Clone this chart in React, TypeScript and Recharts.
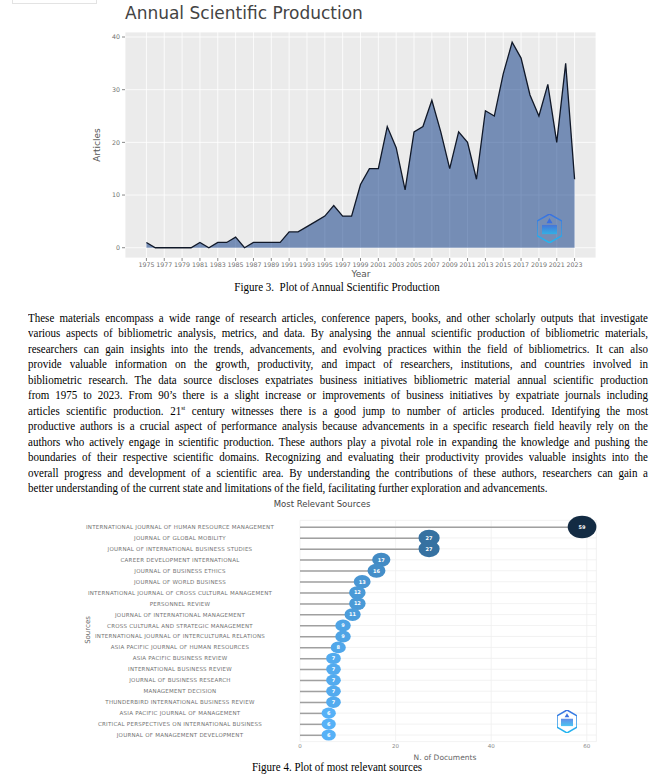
import {
  AreaChart,
  Area,
  XAxis,
  YAxis,
  CartesianGrid,
  ComposedChart,
  Bar,
  Scatter,
  ZAxis,
} from "recharts";

// Figure 3 — annual scientific production
const YEARS = [
  1975, 1976, 1977, 1978, 1979, 1980, 1981, 1982, 1983, 1984, 1985, 1986, 1987,
  1988, 1989, 1990, 1991, 1992, 1993, 1994, 1995, 1996, 1997, 1998, 1999, 2000,
  2001, 2002, 2003, 2004, 2005, 2006, 2007, 2008, 2009, 2010, 2011, 2012, 2013,
  2014, 2015, 2016, 2017, 2018, 2019, 2020, 2021, 2022, 2023,
];
const ARTICLES = [
  1, 0, 0, 0, 0, 0, 1, 0, 1, 1, 2, 0, 1, 1, 1, 1, 3, 3, 4, 5, 6, 8, 6, 6, 12, 15,
  15, 23, 19, 11, 22, 23, 28, 22, 15, 22, 20, 13, 26, 25, 33, 39, 36, 29, 25, 31,
  20, 35, 13,
];
const YEAR_TICKS = [
  1975, 1977, 1979, 1981, 1983, 1985, 1987, 1989, 1991, 1993, 1995, 1997, 1999,
  2001, 2003, 2005, 2007, 2009, 2011, 2013, 2015, 2017, 2019, 2021, 2023,
];
const ARTICLE_TICKS = [0, 10, 20, 30, 40];

// Figure 4 — most relevant sources
const SOURCES = [
  "INTERNATIONAL JOURNAL OF HUMAN RESOURCE MANAGEMENT",
  "JOURNAL OF GLOBAL MOBILITY",
  "JOURNAL OF INTERNATIONAL BUSINESS STUDIES",
  "CAREER DEVELOPMENT INTERNATIONAL",
  "JOURNAL OF BUSINESS ETHICS",
  "JOURNAL OF WORLD BUSINESS",
  "INTERNATIONAL JOURNAL OF CROSS CULTURAL MANAGEMENT",
  "PERSONNEL REVIEW",
  "JOURNAL OF INTERNATIONAL MANAGEMENT",
  "CROSS CULTURAL AND STRATEGIC MANAGEMENT",
  "INTERNATIONAL JOURNAL OF INTERCULTURAL RELATIONS",
  "ASIA PACIFIC JOURNAL OF HUMAN RESOURCES",
  "ASIA PACIFIC BUSINESS REVIEW",
  "INTERNATIONAL BUSINESS REVIEW",
  "JOURNAL OF BUSINESS RESEARCH",
  "MANAGEMENT DECISION",
  "THUNDERBIRD INTERNATIONAL BUSINESS REVIEW",
  "ASIA PACIFIC JOURNAL OF MANAGEMENT",
  "CRITICAL PERSPECTIVES ON INTERNATIONAL BUSINESS",
  "JOURNAL OF MANAGEMENT DEVELOPMENT",
];
const DOCUMENTS = [59, 27, 27, 17, 16, 13, 12, 12, 11, 9, 9, 8, 7, 7, 7, 7, 7, 6, 6, 6];
const DOC_TICKS = [0, 20, 40, 60];

const PARAGRAPH = [
  "These materials encompass a wide range of research articles, conference papers, books, and other scholarly outputs that investigate",
  "various aspects of bibliometric analysis, metrics, and data. By analysing the annual scientific production of bibliometric materials,",
  "researchers can gain insights into the trends, advancements, and evolving practices within the field of bibliometrics. It can also",
  "provide valuable information on the growth, productivity, and impact of researchers, institutions, and countries involved in",
  "bibliometric research. The data source discloses expatriates business initiatives bibliometric material annual scientific production",
  "from 1975 to 2023. From 90\u2019s there is a slight increase or improvements of business initiatives by expatriate journals including",
  "articles scientific production. 21|st| century witnesses there is a good jump to number of articles produced. Identifying the most",
  "productive authors is a crucial aspect of performance analysis because advancements in a specific research field heavily rely on the",
  "authors who actively engage in scientific production. These authors play a pivotal role in expanding the knowledge and pushing the",
  "boundaries of their respective scientific domains. Recognizing and evaluating their productivity provides valuable insights into the",
  "overall progress and development of a scientific area. By understanding the contributions of these authors, researchers can gain a",
  "better understanding of the current state and limitations of the field, facilitating further exploration and advancements.",
];

const annualData = YEARS.map((year, i) => ({ year, articles: ARTICLES[i] }));
const sourceData = SOURCES.map((name, i) => ({ name, rank: i + 1, value: DOCUMENTS[i] }));
const RANKS = sourceData.map((d) => d.rank);

const chartFont = "'DejaVu Sans', Verdana, sans-serif";
const serif = "'Liberation Serif', 'Times New Roman', serif";
const SQUEEZE = 0.88;

// ggplot-like gradient: light blue for few docs, dark navy for many
const minDoc = Math.min(...DOCUMENTS);
const maxDoc = Math.max(...DOCUMENTS);
function docColor(v: number) {
  const lo = [0x56, 0xb1, 0xf7];
  const hi = [0x13, 0x2b, 0x43];
  const t = Math.pow((v - minDoc) / (maxDoc - minDoc), 0.8);
  const c = lo.map((l, k) => Math.round(l + (hi[k] - l) * t));
  return `rgb(${c[0]},${c[1]},${c[2]})`;
}

function Lollipop(props: any) {
  const { cx, cy, size, payload } = props;
  const r = Math.sqrt((size || 100) / Math.PI);
  return (
    <g>
      <ellipse cx={cx} cy={cy} rx={r * 1.28} ry={r} fill={docColor(payload.value)} />
      <text
        x={cx}
        y={cy}
        dy={1.8}
        textAnchor="middle"
        fontSize={5}
        fontWeight="bold"
        fill="#fff"
        fontFamily={chartFont}
      >
        {payload.value}
      </text>
    </g>
  );
}

function SourceTick(props: any) {
  const { x, y, payload } = props;
  return (
    <text
      x={x - 120}
      y={y}
      dy={2}
      textAnchor="middle"
      fontSize={5.5}
      letterSpacing={0.25}
      fill="#727272"
      fontFamily={chartFont}
    >
      {SOURCES[payload.value - 1]}
    </text>
  );
}

function Hex({ x, y, w }: { x: number; y: number; w: number }) {
  const h = w * 1.15;
  const pts = [
    [w / 2, 0],
    [w, h * 0.25],
    [w, h * 0.75],
    [w / 2, h],
    [0, h * 0.75],
    [0, h * 0.25],
  ]
    .map((p) => p.join(","))
    .join(" ");
  return (
    <svg width={w} height={h} style={{ position: "absolute", left: x, top: y }}>
      <defs>
        <linearGradient id={`hg${x}`} x1="0" y1="0" x2="0" y2="1">
          <stop offset="0%" stopColor="#3b6fe0" />
          <stop offset="100%" stopColor="#22b8f0" />
        </linearGradient>
      </defs>
      <polygon points={pts} fill="none" stroke={`url(#hg${x})`} strokeWidth={1.5} />
      <rect x={w * 0.2} y={h * 0.38} width={w * 0.6} height={h * 0.32} fill={`url(#hg${x})`} opacity={0.8} />
      <polygon
        points={`${w / 2},${h * 0.14} ${w * 0.62},${h * 0.32} ${w * 0.38},${h * 0.32}`}
        fill="#3b6fe0"
      />
    </svg>
  );
}

function SerifLine({ text, top, width, justify }: { text: string; top: number; width: number; justify: boolean }) {
  const parts = text.split("|");
  return (
    <div
      style={{
        position: "absolute",
        left: 0,
        top,
        width: width / SQUEEZE,
        fontFamily: serif,
        fontSize: 12.5,
        lineHeight: "15px",
        color: "#000",
        whiteSpace: "nowrap",
        textAlign: justify ? "justify" : "left",
        textAlignLast: justify ? "justify" : "left",
        transform: `scaleX(${SQUEEZE})`,
        transformOrigin: "0 0",
      }}
    >
      {parts.map((p, i) =>
        i % 2 === 1 ? (
          <sup key={i} style={{ fontSize: 7, lineHeight: 0 }}>
            {p}
          </sup>
        ) : (
          <span key={i}>{p}</span>
        )
      )}
    </div>
  );
}

export default function App() {
  return (
    <div
      style={{
        position: "absolute",
        left: 0,
        top: 0,
        width: 661,
        height: 778,
        background: "#fff",
        overflow: "hidden",
      }}
    >
      <div
        style={{
          position: "absolute",
          left: 12,
          top: -2,
          width: 83,
          height: 4,
          border: "1px solid #e3e3e3",
        }}
      />

      {/* Figure 3 */}
      <div
        style={{
          position: "absolute",
          left: 125,
          top: 3,
          fontFamily: chartFont,
          fontSize: 17,
          color: "#444",
          whiteSpace: "nowrap",
        }}
      >
        Annual Scientific Production
      </div>
      <div style={{ position: "absolute", left: 80, top: 0 }}>
        <AreaChart
          width={530}
          height={290}
          data={annualData}
          margin={{ top: 32, right: 14, bottom: 12, left: 15 }}
        >
          <CartesianGrid fill="#ebebeb" stroke="#ffffff" strokeWidth={0.8} />
          <XAxis
            dataKey="year"
            type="number"
            domain={[1972.6, 2025.4]}
            ticks={YEAR_TICKS}
            interval={0}
            axisLine={false}
            tickSize={3}
            tickLine={{ stroke: "#888" }}
            height={20}
            tick={{ fontSize: 6.3, fill: "#707070", fontFamily: chartFont }}
          />
          <YAxis
            type="number"
            domain={[-1.95, 40.95]}
            ticks={ARTICLE_TICKS}
            axisLine={false}
            tickSize={3}
            tickLine={{ stroke: "#888" }}
            width={30}
            tick={{ fontSize: 6.3, fill: "#707070", fontFamily: chartFont }}
          />
          <Area
            type="linear"
            dataKey="articles"
            stroke="#101828"
            strokeWidth={1.3}
            fill="#002f80"
            fillOpacity={0.5}
            isAnimationActive={false}
          />
        </AreaChart>
      </div>
      <div
        style={{
          position: "absolute",
          left: 97,
          top: 145,
          transform: "translate(-50%, -50%) rotate(-90deg)",
          fontFamily: chartFont,
          fontSize: 9,
          color: "#555",
        }}
      >
        Articles
      </div>
      <div
        style={{
          position: "absolute",
          left: 361,
          top: 274,
          transform: "translate(-50%, -50%)",
          fontFamily: chartFont,
          fontSize: 9,
          color: "#555",
        }}
      >
        Year
      </div>
      <Hex x={537} y={214} w={25} />

      <div
        style={{
          position: "absolute",
          left: 337,
          top: 280,
          transform: `translateX(-50%) scaleX(${SQUEEZE})`,
          fontFamily: serif,
          fontSize: 12.5,
          whiteSpace: "pre",
        }}
      >
        {"Figure 3.  Plot of Annual Scientific Production"}
      </div>

      {/* Paragraph */}
      <div style={{ position: "absolute", left: 28, top: 0 }}>
        {PARAGRAPH.map((line, i) => (
          <SerifLine
            key={i}
            text={line}
            top={311 + i * 15.45}
            width={620}
            justify={i < PARAGRAPH.length - 1}
          />
        ))}
      </div>

      {/* Figure 4 */}
      <div
        style={{
          position: "absolute",
          left: 322,
          top: 504,
          transform: "translate(-50%, -50%)",
          fontFamily: chartFont,
          fontSize: 8.5,
          color: "#444",
          whiteSpace: "nowrap",
        }}
      >
        Most Relevant Sources
      </div>
      <div style={{ position: "absolute", left: 60, top: 495 }}>
        <ComposedChart
          layout="vertical"
          width={550}
          height={283}
          data={sourceData}
          margin={{ top: 25.4, right: 13.6, bottom: 16.4, left: 15 }}
        >
          <CartesianGrid stroke="#efefef" strokeWidth={0.8} />
          <XAxis
            dataKey="value"
            type="number"
            domain={[0, 62]}
            ticks={DOC_TICKS}
            axisLine={false}
            tickLine={false}
            tickSize={0}
            tickMargin={2}
            height={20}
            tick={{ fontSize: 5.5, fill: "#888", fontFamily: chartFont }}
          />
          <YAxis
            dataKey="rank"
            type="number"
            domain={[0.4, 20.6]}
            ticks={RANKS}
            interval={0}
            axisLine={false}
            tickLine={false}
            tickSize={0}
            tickMargin={0}
            width={225}
            tick={<SourceTick />}
          />
          <ZAxis dataKey="value" type="number" domain={["dataMin", "dataMax"]} range={[98, 394]} />
          <Bar dataKey="value" barSize={1.5} fill="#a0a0a0" isAnimationActive={false} />
          <Scatter dataKey="value" shape={<Lollipop />} isAnimationActive={false} />
        </ComposedChart>
      </div>
      <div
        style={{
          position: "absolute",
          left: 88,
          top: 630,
          transform: "translate(-50%, -50%) rotate(-90deg)",
          fontFamily: chartFont,
          fontSize: 7,
          color: "#666",
        }}
      >
        Sources
      </div>
      <div
        style={{
          position: "absolute",
          left: 445,
          top: 757,
          transform: "translate(-50%, -50%)",
          fontFamily: chartFont,
          fontSize: 7.5,
          color: "#666",
          whiteSpace: "nowrap",
        }}
      >
        N. of Documents
      </div>
      <Hex x={557} y={710} w={20} />

      <div
        style={{
          position: "absolute",
          left: 337,
          top: 760,
          transform: `translateX(-50%) scaleX(${SQUEEZE})`,
          fontFamily: serif,
          fontSize: 12.5,
          whiteSpace: "pre",
        }}
      >
        {"Figure 4. Plot of most relevant sources"}
      </div>
    </div>
  );
}
